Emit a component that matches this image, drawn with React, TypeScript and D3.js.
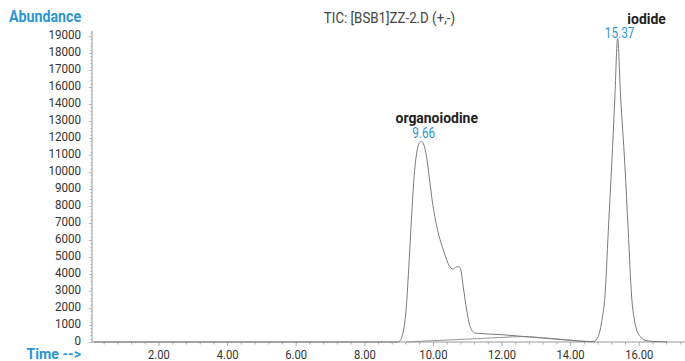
import React from "react";
import * as d3 from "d3";

const W = 685;
const H = 361;

const chartTitle = "TIC: [BSB1]ZZ-2.D (+,-)";
const yAxisTitle = "Abundance";
const xAxisTitle = "Time -->";

// Tick labels exactly as printed in the reference (note: 15000 is absent)
const yTickLabels = [
  "0", "1000", "2000", "3000", "4000", "5000", "6000", "7000", "8000", "9000",
  "10000", "11000", "12000", "13000", "14000", "16000", "17000", "18000", "19000",
];
const xTickValues = [2, 4, 6, 8, 10, 12, 14, 16];

// Main TIC trace (time in min, abundance in axis-position units)
const mainTime = [
  0.1, 8.9, 8.98, 9.05, 9.12, 9.2, 9.28, 9.36, 9.44, 9.52, 9.59, 9.66, 9.73, 9.8, 9.88, 9.95,
  10.1, 10.29, 10.48, 10.57, 10.64, 10.7, 10.76, 10.8, 10.87, 10.97, 11.07, 11.21, 11.36,
  12.0, 12.6, 13.0, 13.5, 14.0, 14.47, 14.62, 14.71, 14.8, 14.86, 14.93, 15.0, 15.1, 15.2,
  15.29, 15.37, 15.46, 15.58, 15.68, 15.78, 15.86, 15.93, 16.05, 16.17, 16.4, 16.69, 16.81,
];
const mainAbund = [
  0, 0, 0, 150, 600, 1800, 4300, 7200, 9800, 11200, 11700, 11800, 11550, 10900, 9700, 8550,
  6780, 5410, 4430, 4290, 4380, 4430, 4400, 4240, 3250, 1880, 900, 530, 500,
  430, 330, 265, 180, 95, 25, 25, 60, 300, 700, 1500, 2650, 6550, 10500,
  14350, 17850, 14350, 10500, 6550, 2650, 1300, 700, 280, 100, 35, 15, 10,
];

// Second faint trace under the organoiodine tail
const baseTime = [9.2, 10.0, 11.0, 12.0, 12.6, 13.0, 13.5, 14.0, 14.5, 14.7];
const baseAbund = [0, 80, 170, 270, 320, 280, 200, 110, 30, 15];

// Peak annotations
const peakNames = ["organoiodine", "iodide"];
const peakTimes = [9.66, 15.37];
const peakHeights = [11800, 17850];

const BLUE = "#2a96d2";
const FONT = "Roboto, 'Noto Sans', sans-serif";

type CondProps = {
  x: number;
  y: number;
  sx: number;
  size: number;
  anchor?: "start" | "middle" | "end";
  bold?: boolean;
  fill: string;
  children: React.ReactNode;
};

function CondText({ x, y, sx, size, anchor = "start", bold = false, fill, children }: CondProps) {
  return (
    <text
      transform={`translate(${x},${y}) scale(${sx},1)`}
      textAnchor={anchor}
      dominantBaseline="central"
      fontSize={size}
      fontWeight={bold ? "bold" : "normal"}
      fill={fill}
    >
      {children}
    </text>
  );
}

export default function App() {
  const x = d3.scaleLinear().domain([0, 17.35]).range([90.4, 685.5]);
  const y = d3.scaleLinear().domain([0, 18000]).range([342, 36]);

  const axisX = 92;
  const axisY = y(0);

  const line = d3
    .line<[number, number]>()
    .x((d) => x(d[0]))
    .y((d) => y(d[1]))
    .curve(d3.curveMonotoneX);

  const mainPts: [number, number][] = mainTime.map((t, i) => [t, mainAbund[i]]);
  const basePts: [number, number][] = baseTime.map((t, i) => [t, baseAbund[i]]);

  const yMinor = d3.range(0, 18201, 200);
  const xMinor = d3.range(0.4, 17.3, 0.4);

  const nameOffsets = [15, 29];

  return (
    <svg
      width={W}
      height={H}
      style={{ position: "absolute", left: 0, top: 0, background: "#fff" }}
      fontFamily={FONT}
    >
      {/* titles */}
      <CondText x={389.5} y={18} sx={0.95} size={14} anchor="middle" fill="#444">
        {chartTitle}
      </CondText>
      <CondText x={9} y={17} sx={0.89} size={16} bold fill={BLUE}>
        {yAxisTitle}
      </CondText>
      <CondText x={81} y={354.5} sx={0.98} size={14.5} anchor="end" bold fill={BLUE}>
        {xAxisTitle}
      </CondText>

      {/* y axis */}
      <line x1={axisX} x2={axisX} y1={31} y2={axisY} stroke="#999" strokeWidth={1} />
      {yMinor.map((v) => (
        <line
          key={"ym" + v}
          x1={axisX - (v % 1000 === 0 ? 3 : 1.5)}
          x2={axisX}
          y1={Math.round(y(v)) + 0.5}
          y2={Math.round(y(v)) + 0.5}
          stroke="#aaa"
          strokeWidth={0.8}
        />
      ))}
      {yTickLabels.map((lab, i) => (
        <CondText key={"yl" + i} x={81} y={y(i * 1000) - 1.5} sx={0.86} size={13.5} anchor="end" fill="#333">
          {lab}
        </CondText>
      ))}

      {/* x axis */}
      <line x1={axisX} x2={W} y1={axisY} y2={axisY} stroke="#999" strokeWidth={1} />
      {xMinor.map((t, i) => (
        <line
          key={"xm" + i}
          x1={x(t)}
          x2={x(t)}
          y1={axisY}
          y2={axisY + ((i + 1) % 5 === 0 ? 4 : 2.5)}
          stroke="#999"
          strokeWidth={0.8}
        />
      ))}
      {xTickValues.map((t) => (
        <CondText key={"xl" + t} x={x(t)} y={354} sx={0.83} size={13.5} anchor="middle" fill="#333">
          {t.toFixed(2)}
        </CondText>
      ))}

      {/* traces */}
      <path d={line(basePts) || ""} fill="none" stroke="#8a8a8a" strokeWidth={0.9} />
      <path d={line(mainPts) || ""} fill="none" stroke="#7a7a7a" strokeWidth={1} />

      {/* peak labels */}
      {peakNames.map((name, i) => {
        const px = x(peakTimes[i]);
        const py = y(peakHeights[i]);
        const rtGap = i === 0 ? 8.5 : 5;
        return (
          <g key={name}>
            <CondText x={px + 2} y={py - rtGap} sx={0.84} size={14} anchor="middle" fill={BLUE}>
              {peakTimes[i].toFixed(2)}
            </CondText>
            <CondText x={px + nameOffsets[i]} y={py - rtGap - 15} sx={0.9} size={15.5} anchor="middle" bold fill="#222">
              {name}
            </CondText>
          </g>
        );
      })}
    </svg>
  );
}
